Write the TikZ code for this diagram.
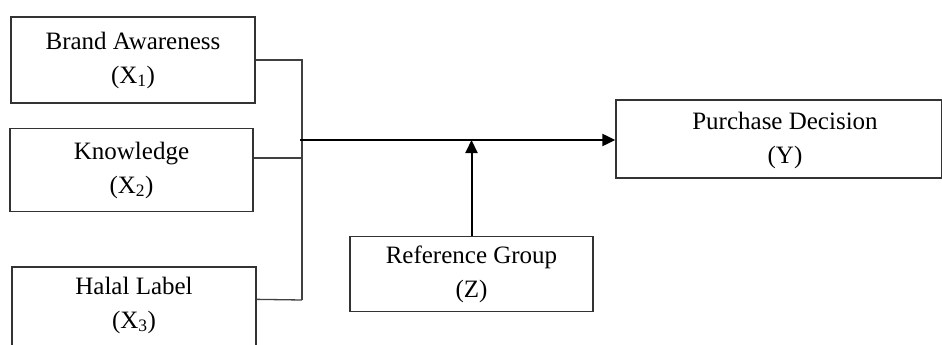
\documentclass[tikz,border=0pt]{standalone}
\usepackage{fontspec}
\setmainfont{Liberation Serif}
\usetikzlibrary{arrows.meta,calc}
\begin{document}
\begin{tikzpicture}[x=1pt,y=-1pt,
  box/.style={draw=black!80,line width=1.3pt,inner sep=0pt,align=center,
    font=\fontsize{25}{34}\selectfont},
  lbl/.style={font=\fontsize{25}{34}\selectfont,align=center},
  link/.style={draw=black!75,line width=1.3pt},
  arr/.style={draw=black,line width=2pt,-{Triangle[length=13pt,width=12pt]}}]
\useasboundingbox (0,0) rectangle (942,345);
\clip (0,0) rectangle (942,345);
\node[box,minimum width=244pt,minimum height=86pt] (x1) at (133,60) {Brand Awareness\\(X\textsubscript{1})};
\node[box,minimum width=243pt,minimum height=83pt] (x2) at (131.5,170) {Knowledge\\(X\textsubscript{2})};
\node[box,minimum width=244pt,minimum height=86pt] (x3) at (134,310) {};
\node[lbl] (x3t) at (134,305) {Halal Label\\(X\textsubscript{3})};
\node[box,minimum width=326pt,minimum height=78pt] (y) at (779,139) {};
\node[lbl] (yt) at (785,140) {Purchase Decision\\(Y)};
\node[box,minimum width=243pt,minimum height=75pt] (z) at (471.5,274) {Reference Group\\(Z)};
\coordinate (busb) at (302,300);
\coordinate (junc) at (300,140);
\draw[link] (x1.east) -| (busb);
\draw[link] ([yshift=-33pt]x3.north east) -- (busb);
\draw[link] ([yshift=-30pt]x2.north east) -- ([yshift=-30pt]x2.north east -| busb);
\draw[arr] (junc) -- (y.west |- junc);
\draw[arr] (z.north) -- (z.north |- junc);
\end{tikzpicture}
\end{document}
